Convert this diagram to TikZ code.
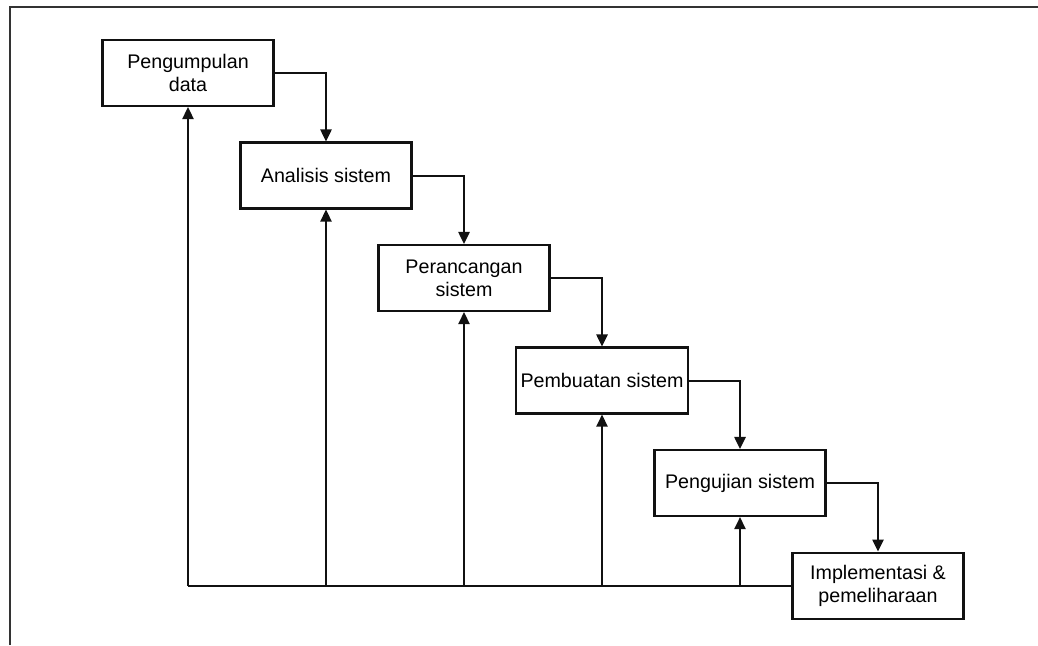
\documentclass[tikz,border=0pt]{standalone}
\usepackage{fontspec}
\setmainfont{Liberation Sans}
\usetikzlibrary{arrows.meta,positioning}
\definecolor{wfline}{HTML}{111111}
\definecolor{wfframe}{HTML}{333333}

\begin{document}
\begin{tikzpicture}[
  node distance=0.86cm,
  tahap/.style={rectangle,draw=wfline,line width=1.5pt,fill=white,
    minimum width=4.275cm,minimum height=1.65cm,align=center,
    font=\fontsize{14}{16.5}\selectfont},
  edge/.style={wfline,line width=1.4pt,-{Triangle[length=0.3cm,width=0.28cm]}},
  balik/.style={wfline,line width=1.4pt}]
  \useasboundingbox (0,0) rectangle (25.95,-16.125);
  \draw[wfframe,line width=1.5pt] (0.25,-16.125) -- (0.25,-0.175) -- (25.95,-0.175);
  \node[tahap] (pd) at (4.7,-1.825) {Pengumpulan\\data};
  \node[tahap,below=of pd,xshift=3.45cm] (as) {Analisis sistem};
  \node[tahap,below=of as,xshift=3.45cm] (ps) {Perancangan\\sistem};
  \node[tahap,below=of ps,xshift=3.45cm] (pb) {Pembuatan sistem};
  \node[tahap,below=of pb,xshift=3.45cm] (pu) {Pengujian sistem};
  \node[tahap,below=of pu,xshift=3.45cm] (imp) {Implementasi \&\\pemeliharaan};
  % alur maju
  \draw[edge] (pd.east) -| (as.north);
  \draw[edge] (as.east) -| (ps.north);
  \draw[edge] (ps.east) -| (pb.north);
  \draw[edge] (pb.east) -| (pu.north);
  \draw[edge] (pu.east) -| (imp.north);
  % umpan balik
  \coordinate (b1) at (pd.south |- imp.west);
  \coordinate (b2) at (as.south |- imp.west);
  \coordinate (b3) at (ps.south |- imp.west);
  \coordinate (b4) at (pb.south |- imp.west);
  \coordinate (b5) at (pu.south |- imp.west);
  \draw[balik] (imp.west) -- (b1);
  \draw[edge] (b1) -- (pd.south); \draw[edge] (b2) -- (as.south);
  \draw[edge] (b3) -- (ps.south); \draw[edge] (b4) -- (pb.south);
  \draw[edge] (b5) -- (pu.south);
\end{tikzpicture}
\end{document}
